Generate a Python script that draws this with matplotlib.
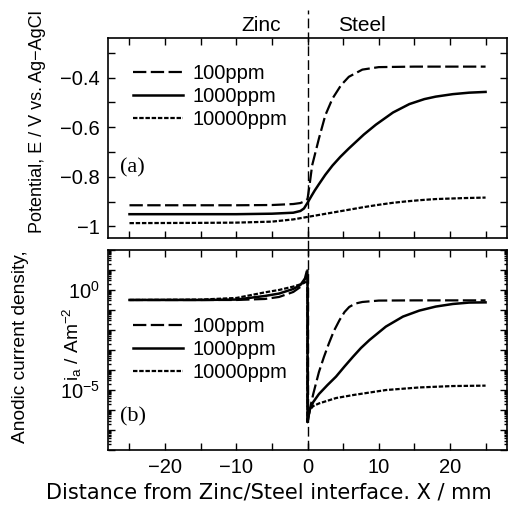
import numpy as np
import matplotlib
matplotlib.use("Agg")
import matplotlib.pyplot as plt
from matplotlib.ticker import MultipleLocator, FixedLocator, NullFormatter, FuncFormatter

plt.rcParams['font.family'] = ['Liberation Sans', 'DejaVu Sans']
plt.rcParams['mathtext.fontset'] = 'custom'
plt.rcParams['mathtext.rm'] = 'Liberation Sans'
plt.rcParams['mathtext.it'] = 'Liberation Sans:italic'

# ---------------- data ----------------
labels = ["100ppm", "1000ppm", "10000ppm"]

# (a) potential
xa_100 = [-25, -10, -5, -2, -1, -0.5, 0, 0.3, 0.65, 1.6, 2.5, 3.5, 4.7, 5.8, 7.7, 10, 15, 20, 25]
Ea_100 = [-0.915, -0.915, -0.914, -0.91, -0.906, -0.90, -0.89, -0.83, -0.754, -0.646, -0.552,
          -0.485, -0.431, -0.397, -0.368, -0.358, -0.356, -0.356, -0.356]
xa_1000 = [-25, -10, -5, -2, -1, -0.5, 0, 0.5, 1.0, 1.6, 2.5, 3.5, 4.6, 5.8, 7.9, 9.6, 12, 14.3,
           16.4, 18, 20.4, 22.7, 25]
Ea_1000 = [-0.951, -0.951, -0.949, -0.945, -0.938, -0.928, -0.905, -0.88, -0.856, -0.83, -0.792,
           -0.755, -0.72, -0.686, -0.63, -0.59, -0.541, -0.507, -0.487, -0.477, -0.467, -0.461,
           -0.458]
xa_10000 = [-25, -15, -10, -5, -2, 0, 2, 4, 6, 8, 10, 12, 14, 16, 18, 20, 22, 25]
Ea_10000 = [-0.987, -0.986, -0.985, -0.981, -0.972, -0.962, -0.952, -0.942, -0.932, -0.922,
            -0.913, -0.905, -0.899, -0.894, -0.890, -0.888, -0.886, -0.884]

# (b) anodic current density, log10 values
xb_100 = [-25, -15, -10, -6, -4, -2, -1, -0.5, 0, 0, 0.3, 0.8, 1.6, 2.3, 3, 3.7, 4.5, 5.2, 5.85,
          6.7, 7.7, 10, 15, 25]
lgb_100 = [-0.5, -0.5, -0.5, -0.45, -0.35, -0.1, 0.15, 0.4, 1.1, -6.6, -6.0, -5.2, -4.1, -3.35,
           -2.67, -2.05, -1.5, -1.1, -0.85, -0.68, -0.6, -0.53, -0.52, -0.52]
xb_1000 = [-25, -15, -10, -6, -4, -2, -1, -0.5, 0, 0, 0.3, 0.8, 1.6, 2.8, 4, 5.2, 6.4, 7.5, 8.7,
           11, 13.4, 15.7, 18, 20.4, 22.7, 25]
lgb_1000 = [-0.5, -0.5, -0.48, -0.3, -0.18, 0.05, 0.25, 0.5, 0.7, -6.6, -6.0, -5.6, -5.2, -4.75,
            -4.33, -3.82, -3.33, -2.9, -2.5, -1.83, -1.33, -1.03, -0.83, -0.7, -0.63, -0.62]
xb_10000 = [-25, -15, -10, -6, -4, -2, -1, -0.5, 0, 0, 0.3, 0.8, 1.6, 4, 6.4, 11, 15.7, 20.4, 25]
lgb_10000 = [-0.5, -0.48, -0.4, -0.12, 0.0, 0.17, 0.28, 0.35, 0.45, -6.6, -6.0, -5.8, -5.67, -5.4,
             -5.25, -5.0, -4.87, -4.8, -4.78]

styles = [dict(ls=(0, (6, 2)), lw=1.6),
          dict(ls='-', lw=1.8),
          dict(ls=(0, (2, 0.8)), lw=1.6)]

# ---------------- figure ----------------
fig = plt.figure(figsize=(5.10, 5.08), dpi=100)
axa = fig.add_axes([0.212, 0.531, 0.782, 0.394])
axb = fig.add_axes([0.212, 0.114, 0.782, 0.394])

for x, y, st, lab in zip([xa_100, xa_1000, xa_10000], [Ea_100, Ea_1000, Ea_10000], styles, labels):
    axa.plot(x, y, color='black', label=lab, **st)
for x, y, st, lab in zip([xb_100, xb_1000, xb_10000], [lgb_100, lgb_1000, lgb_10000], styles, labels):
    axb.plot(x, 10.0 ** np.array(y), color='black', label=lab, **st)

axa.set_xlim(-28, 28)
axa.set_ylim(-1.048, -0.241)
axb.set_xlim(-28, 28)
axb.set_yscale('log')
axb.set_ylim(1e-8, 1e2)

tick_kw = dict(direction='in', top=True, right=True, labelsize=14.5, length=5, width=1.0,
               color='black', pad=6)
for ax in (axa, axb):
    ax.xaxis.set_major_locator(MultipleLocator(10))
    ax.xaxis.set_minor_locator(MultipleLocator(5))
    ax.tick_params(which='both', **tick_kw)
    for sp in ax.spines.values():
        sp.set_linewidth(1.2)

axa.tick_params(axis='x', labelbottom=False)
axa.yaxis.set_major_locator(FixedLocator([-1, -0.8, -0.6, -0.4]))
axa.yaxis.set_minor_locator(MultipleLocator(0.1))
axa.yaxis.set_major_formatter(FuncFormatter(lambda v, p: ('%g' % v).replace('-', '\u2212')))

axb.yaxis.set_major_locator(FixedLocator([10.0 ** k for k in range(-8, 3)]))
axb.yaxis.set_major_formatter(FuncFormatter(
    lambda v, p: (r'$10^{%d}$' % round(np.log10(v))).replace('-', '\u2212') if round(np.log10(v)) in (0, -5) else ''))
axb.yaxis.set_minor_locator(FixedLocator([m * 10.0 ** k for k in range(-8, 2) for m in range(2, 10)]))
axb.yaxis.set_minor_formatter(NullFormatter())
axb.tick_params(axis='y', which='minor', length=2.5)
axb.xaxis.set_major_formatter(FuncFormatter(lambda v, p: ('%g' % v).replace('-', '\u2212')))

# interface line
axa.axvline(0, ymin=-0.06, ymax=1.14, color='black', lw=1.0, ls=(0, (7, 3)), clip_on=False)
axb.axvline(0, ymin=0, ymax=1.0, color='black', lw=1.0, ls=(0, (7, 3)))

axa.text(-6.5, 1.065, 'Zinc', transform=axa.get_xaxis_transform(), ha='center', va='center', fontsize=15)
axa.text(7.6, 1.065, 'Steel', transform=axa.get_xaxis_transform(), ha='center', va='center', fontsize=15)

axa.text(0.03, 0.35, '(a)', transform=axa.transAxes, ha='left', va='center', fontsize=16,
         family='Liberation Serif')
axb.text(0.03, 0.165, '(b)', transform=axb.transAxes, ha='left', va='center', fontsize=16,
         family='Liberation Serif')

leg_kw = dict(frameon=False, fontsize=14.5, handlelength=2.5, handletextpad=0.45, labelspacing=0.2,
              borderpad=0, borderaxespad=0, loc='upper left')
axa.legend(bbox_to_anchor=(0.062, 0.87), **leg_kw)
axb.legend(bbox_to_anchor=(0.062, 0.665), **leg_kw)

fig.text(37.5 / 510, 1 - 122 / 508, 'Potential, E / V vs. Ag\u2212AgCl', rotation=90,
         ha='center', va='center', fontsize=13)
fig.text(21 / 510, 1 - 347 / 508, 'Anodic current density,', rotation=90,
         ha='center', va='center', fontsize=13.8)
fig.text(72 / 510, 1 - 344 / 508, r'i$_\mathregular{a}$ / Am$^{\mathregular{-2}}$', rotation=90,
         ha='center', va='center', fontsize=13.8)
fig.text(0.528, 1 - 492 / 508, 'Distance from Zinc/Steel interface. X / mm', ha='center', va='center',
         fontsize=15, family='DejaVu Sans')

fig.savefig('out.png', dpi=100)
